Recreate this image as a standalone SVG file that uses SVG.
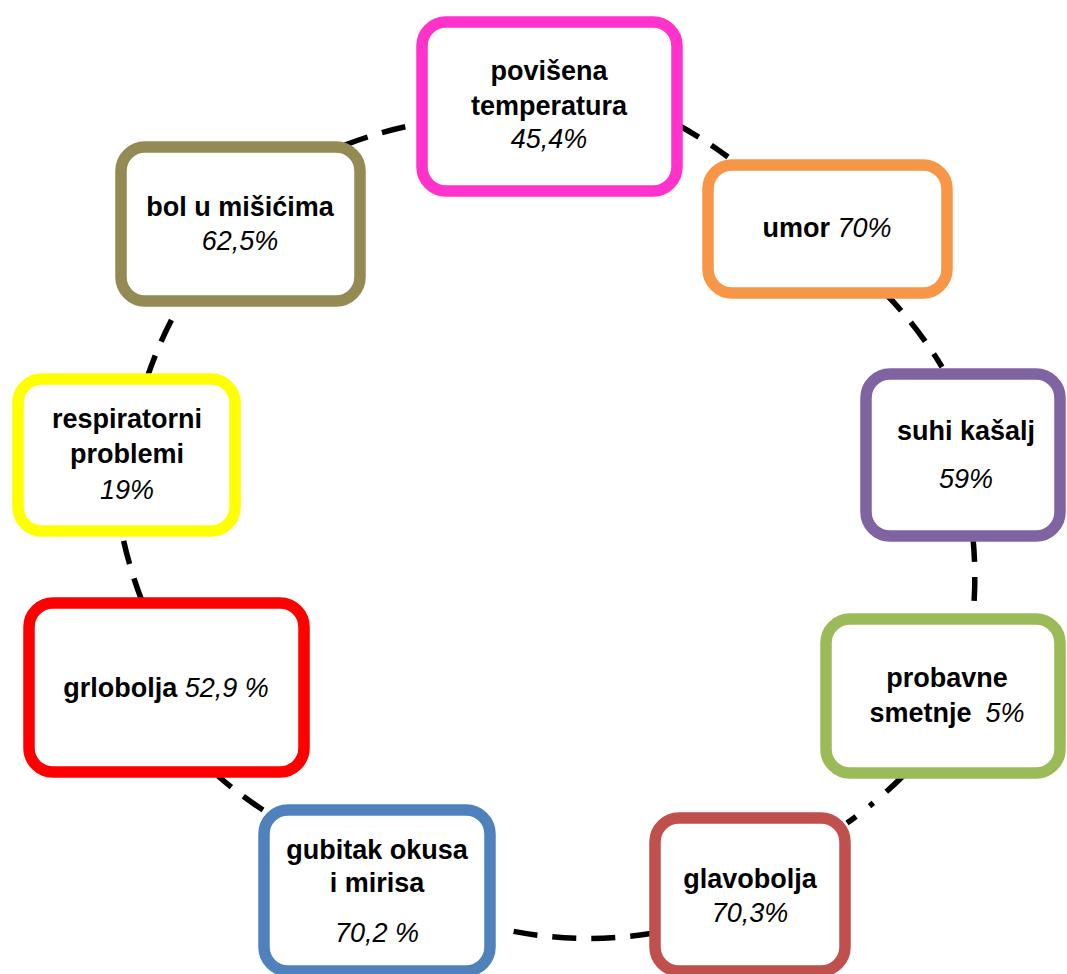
<svg xmlns="http://www.w3.org/2000/svg" width="1067" height="974" viewBox="0 0 1067 974">
<style>
  .box { fill: #FFFFFF; stroke-width: 11.5; }
  .lbl { font-family: "Liberation Sans", Arial, sans-serif; font-size: 27px; fill: #000000; text-anchor: middle; }
  .b { font-weight: bold; }
  .i { font-style: italic; font-weight: normal; }
  .conn { fill: none; stroke: #000000; stroke-width: 5.5; stroke-dasharray: 24 15; stroke-linecap: butt; }
</style>
<rect x="0" y="0" width="1067" height="974" fill="#FFFFFF"/>
<g id="connectors">
  <path class="conn" d="M678,125 A420,420 0 0 1 728,157"/>
  <path class="conn" d="M885,293 A420,420 0 0 1 942,367"/>
  <path class="conn" d="M973,538 A420,420 0 0 1 974,603"/>
  <path class="conn" style="stroke-dasharray: 23 17 5 17 12" d="M903,776 A420,420 0 0 1 847,823"/>
  <path class="conn" d="M654,933 A400,400 0 0 1 502,929"/>
  <path class="conn" d="M263,810 A420,420 0 0 1 218,776"/>
  <path class="conn" d="M142,601 A420,420 0 0 1 123,538"/>
  <path class="conn" d="M147,378 A420,420 0 0 1 173,317"/>
  <path class="conn" d="M345,145 A420,420 0 0 1 409,126"/>
</g>
<g id="node-povisena-temperatura">
  <rect class="box" x="422" y="22" width="255" height="169" rx="24" stroke="#FF33CC"/>
  <text class="lbl b" x="549" y="80">povišena</text>
  <text class="lbl b" x="549" y="115">temperatura</text>
  <text class="lbl i" x="549" y="148">45,4%</text>
</g>
<g id="node-umor">
  <rect class="box" x="708" y="165" width="239" height="128" rx="24" stroke="#F79646"/>
  <text class="lbl" x="827" y="237"><tspan class="b">umor </tspan><tspan class="i">70%</tspan></text>
</g>
<g id="node-suhi-kasalj">
  <rect class="box" x="866" y="374" width="194" height="162" rx="24" stroke="#8064A2"/>
  <text class="lbl b" x="966" y="440">suhi kašalj</text>
  <text class="lbl i" x="966" y="488">59%</text>
</g>
<g id="node-probavne-smetnje">
  <rect class="box" x="826" y="619" width="234" height="154" rx="24" stroke="#9BBB59"/>
  <text class="lbl b" x="947" y="687">probavne</text>
  <text class="lbl" x="947" y="722"><tspan class="b">smetnje</tspan><tspan class="i" dx="14">5%</tspan></text>
</g>
<g id="node-glavobolja">
  <rect class="box" x="655" y="818" width="190" height="153" rx="24" stroke="#C0504D"/>
  <text class="lbl b" x="750" y="888">glavobolja</text>
  <text class="lbl i" x="750" y="922">70,3%</text>
</g>
<g id="node-gubitak-okusa">
  <rect class="box" x="264" y="810" width="226" height="161" rx="24" stroke="#4F81BD"/>
  <text class="lbl b" x="377" y="859">gubitak okusa</text>
  <text class="lbl b" x="377" y="892">i mirisa</text>
  <text class="lbl i" x="377" y="942">70,2 %</text>
</g>
<g id="node-grlobolja">
  <rect class="box" x="29" y="603" width="275" height="169" rx="24" stroke="#FF0000"/>
  <text class="lbl" x="166" y="697"><tspan class="b">grlobolja </tspan><tspan class="i">52,9 %</tspan></text>
</g>
<g id="node-respiratorni-problemi">
  <rect class="box" x="18" y="379" width="217" height="152" rx="24" stroke="#FFFF00"/>
  <text class="lbl b" x="127" y="428">respiratorni</text>
  <text class="lbl b" x="127" y="463">problemi</text>
  <text class="lbl i" x="127" y="499">19%</text>
</g>
<g id="node-bol-u-misicima">
  <rect class="box" x="121" y="147" width="239" height="154" rx="24" stroke="#948A54"/>
  <text class="lbl b" x="240" y="216">bol u mišićima</text>
  <text class="lbl i" x="240" y="250">62,5%</text>
</g>
</svg>
